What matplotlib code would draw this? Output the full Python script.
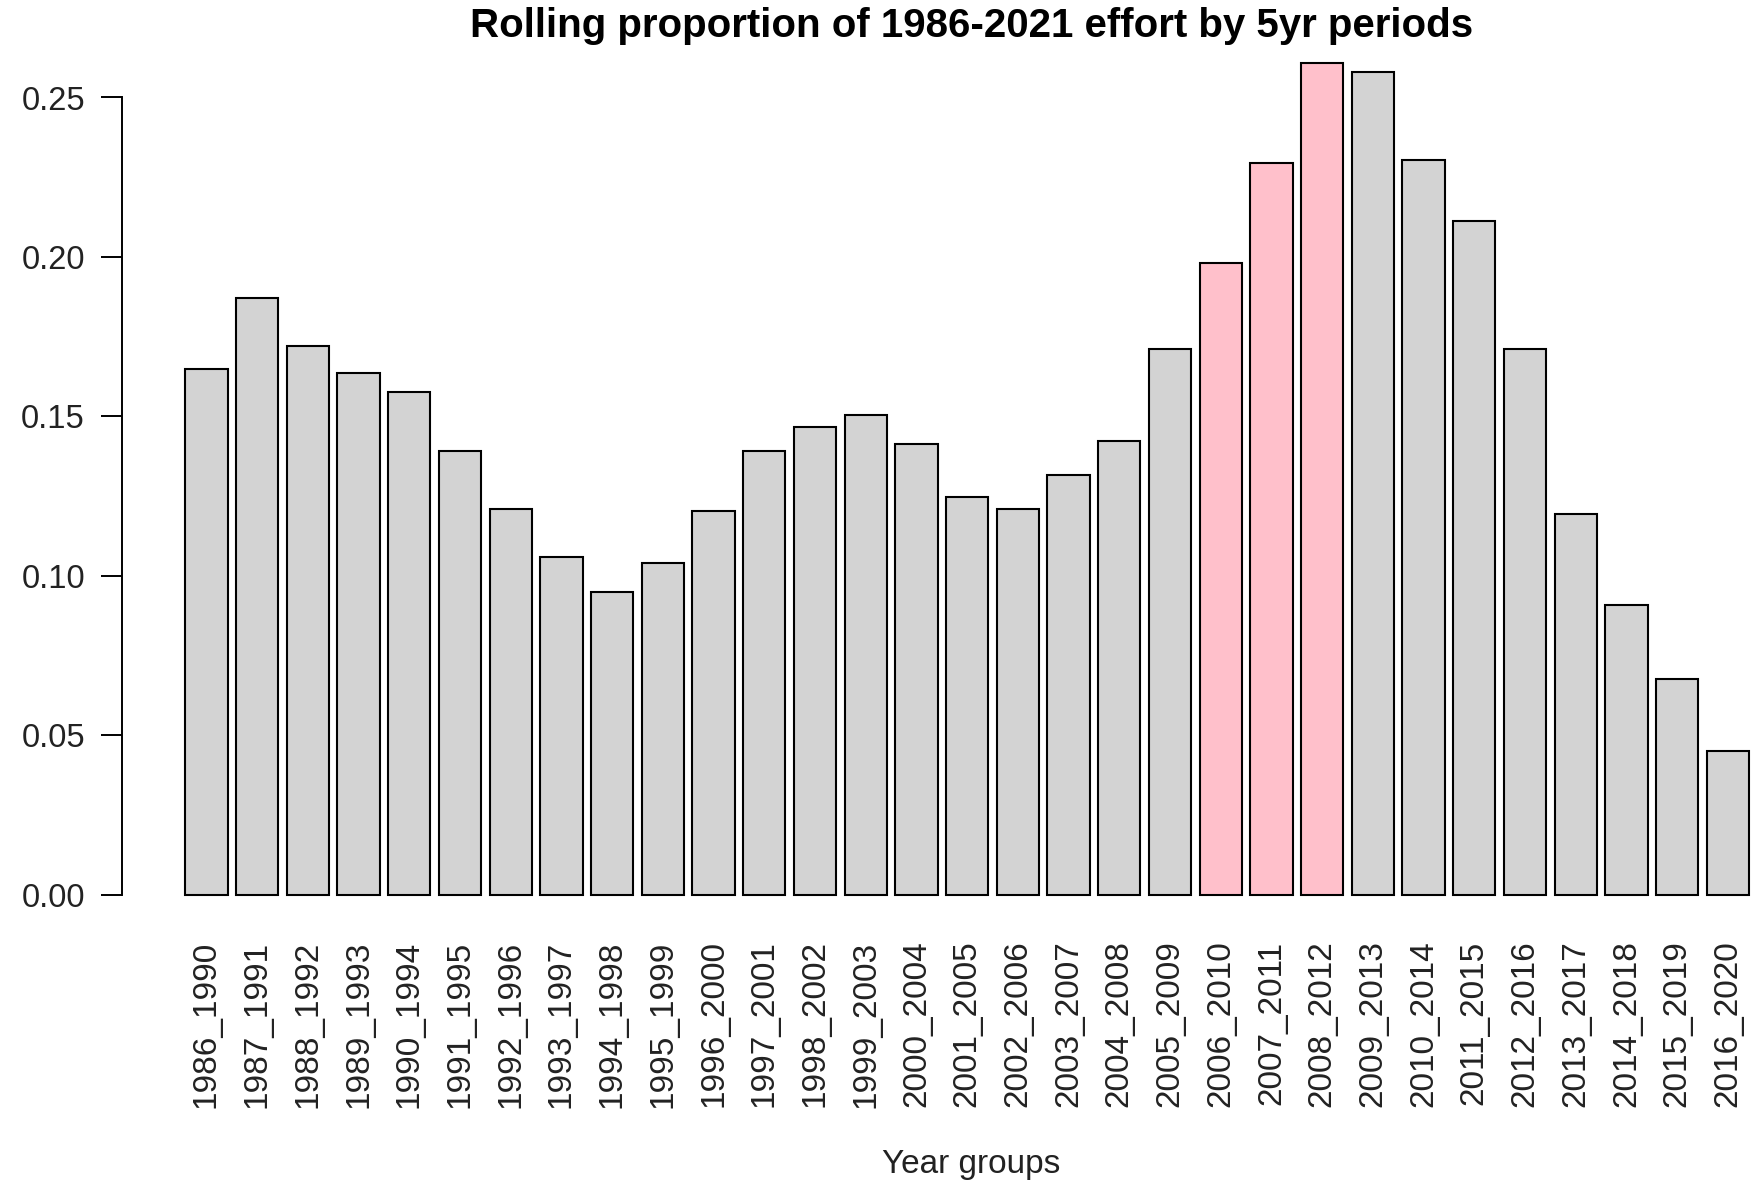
import numpy as np
import matplotlib
matplotlib.use("Agg")
import matplotlib.pyplot as plt

plt.rcParams['font.family'] = ['Liberation Sans', 'DejaVu Sans']

# rolling 5yr groups and their share of total effort
groups = ['1986_1990', '1987_1991', '1988_1992', '1989_1993', '1990_1994',
          '1991_1995', '1992_1996', '1993_1997', '1994_1998', '1995_1999',
          '1996_2000', '1997_2001', '1998_2002', '1999_2003', '2000_2004',
          '2001_2005', '2002_2006', '2003_2007', '2004_2008', '2005_2009',
          '2006_2010', '2007_2011', '2008_2012', '2009_2013', '2010_2014',
          '2011_2015', '2012_2016', '2013_2017', '2014_2018', '2015_2019',
          '2016_2020']
proportion = [0.1649, 0.1870, 0.1720, 0.1635, 0.1575,
              0.1392, 0.1210, 0.1058, 0.0949, 0.1040,
              0.1203, 0.1392, 0.1466, 0.1505, 0.1414,
              0.1248, 0.1210, 0.1315, 0.1424, 0.1712,
              0.1980, 0.2296, 0.2609, 0.2581, 0.2303,
              0.2113, 0.1712, 0.1195, 0.0907, 0.0675,
              0.0450]
highlight = ['2006_2010', '2007_2011', '2008_2012']

colors = ['#FFC0CB' if g in highlight else '#D3D3D3' for g in groups]

# R barplot-like geometry: width 1, space 0.2
n = len(groups)
centers = 0.7 + 1.2 * np.arange(n)
x_lo, x_hi = 0.2, 0.2 + 1.2 * n
pad_x = 0.04 * (x_hi - x_lo)
ymax = max(proportion)
pad_y = 0.04 * ymax

W, H = 1758, 1185
fig = plt.figure(figsize=(W / 100, H / 100), dpi=100)

# axes box in pixels (cropped on the right like the original)
left_px, right_px = 122.4, 1820.3
ppu = 3188.8  # pixels per y unit
zero_px = 894.7
bot_px = zero_px + pad_y * ppu
top_px = zero_px - (ymax + pad_y) * ppu
ax = fig.add_axes([left_px / W, 1 - bot_px / H,
                   (right_px - left_px) / W, (bot_px - top_px) / H])

ax.bar(centers, proportion, width=1.0, color=colors,
       edgecolor='black', linewidth=1.5)

ax.set_xlim(x_lo - pad_x, x_hi + pad_x)
ax.set_ylim(-pad_y, ymax + pad_y)

ax.set_xticks(centers)
ax.set_xticklabels(groups, rotation=90, fontsize=24, color='#222222')
ax.tick_params(axis='x', length=0, pad=9)

ax.set_yticks([0, 0.05, 0.10, 0.15, 0.20, 0.25])
ax.set_yticklabels(['0.00', '0.05', '0.10', '0.15', '0.20', '0.25'],
                   fontsize=23.5, color='#222222')
ax.tick_params(axis='y', length=15, width=1.4, pad=12)

for s in ['top', 'right', 'bottom']:
    ax.spines[s].set_visible(False)
ax.spines['left'].set_bounds(0, 0.25)
ax.spines['left'].set_linewidth(1.4)

mid = (left_px + right_px) / 2 / W
fig.text(mid, 1 - 26 / H, 'Rolling proportion of 1986-2021 effort by 5yr periods',
         ha='center', va='center', fontsize=29, fontweight='bold')
fig.text(mid, 1 - 1164 / H, 'Year groups', ha='center', va='center',
         fontsize=24, color='#222222')

fig.savefig('out.png', dpi=100)
